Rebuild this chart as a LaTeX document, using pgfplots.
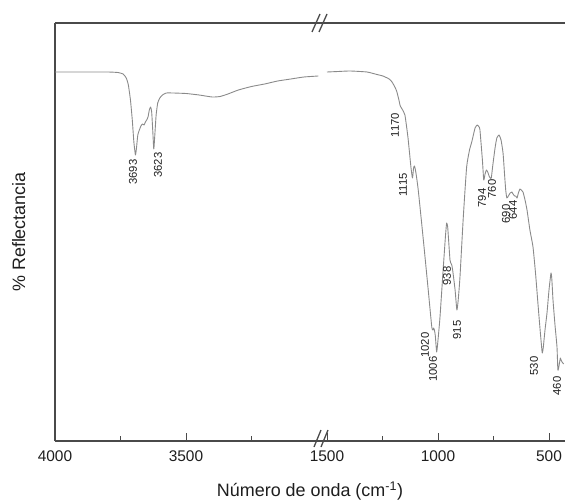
\documentclass[border=0pt]{standalone}
\usepackage{pgfplots}
\pgfplotsset{compat=1.18}
\usepackage{pgfplotstable}
\usepackage{fontspec}
\setmainfont{Liberation Sans}
\definecolor{axisgray}{HTML}{4A4A4A}
\definecolor{curvegray}{HTML}{8A8A8A}
\definecolor{txt}{HTML}{1E1E1E}

% left segment (4000 - ~2990 cm^-1): wavenumber, reflectance (arbitrary units)
\pgfplotstableread{
w y
4000 368
3900 368
3800 368
3760 367.5
3740 366
3728 362
3720 355
3712 340
3705 320
3699 298
3693 285
3689 292
3684 305
3678 310
3672 314
3666 316
3660 315
3655 318
3650 320
3645 323
3640 330
3635 333
3631 328
3627 310
3623 291
3619 305
3614 325
3608 337
3600 342
3590 345
3575 347
3550 347
3500 346.5
3450 345
3400 343
3370 343.5
3340 346
3300 350
3250 353.5
3200 356
3150 359
3100 361
3050 363
2995 364
}\lefttab

% right segment (1500 - ~430 cm^-1)
\pgfplotstableread{
w y
1500 368
1450 368.5
1396 369
1320 368
1275 365.5
1248 364
1220 361
1207 358
1192 352
1185 348
1176 340
1170 334
1162 331
1149 325
1135 302
1122 273
1115 262
1110 272
1106 274
1100 268
1089 250
1066 200
1044 150
1028 113
1022 110
1020 112
1016 110
1012 104
1006 88
1000 100
991 123
976 173
966 205
961 217
956 212
946 180
940 176
938 175
934 170
923 150
915 130
909 140
901 163
886 223
871 273
858 290
848 298
833 312
823 315
815 313
811 310
800 280
794 260
788 266
782 270
776 268
770 264
765 262
760 262
753 275
743 292
735 302
725 305
716 300
707 287
700 265
695 250
690 242
683 244
675 247
667 248
662 246
655 244
650 244
644 242
638 247
631 251
625 250
617 248
608 240
599 230
586 210
572 193
560 165
550 137
540 110
532 90
530 87
526 92
518 110
509 127
500 150
491 167
487 160
482 140
473 115
464 93
460 70
455 74
449 82
446 80
441 78
434 76
}\righttab

\begin{document}
\begin{tikzpicture}
\begin{axis}[
  at={(0,0)}, anchor=south west,
  scale only axis,
  width=510bp, height=418bp,
  xmin=0, xmax=510, ymin=-1, ymax=417,
  axis x line*=box, axis y line*=left,
  axis line style={draw=axisgray, line width=1.3pt},
  xtick={0,131,272,383,494},
  xticklabels={4000,3500,1500,1000,500},
  minor xtick={65.5,196.5,327.5,438.5},
  xtick pos=bottom,
  tick align=inside,
  major tick length=8bp, minor tick length=5bp,
  every tick/.style={draw=axisgray, line width=1pt},
  ytick=\empty,
  x tick label style={font=\fontsize{15.5}{18}\selectfont, text=txt, yshift=-6bp},
  xlabel={Número de onda (cm\textsuperscript{-1})},
  ylabel={\% Reflectancia},
  xlabel style={font=\fontsize{18}{21}\selectfont, text=txt, at={(axis description cs:0.5,-0.12)}, anchor=center},
  ylabel style={font=\fontsize{18}{21}\selectfont, text=txt, at={(axis description cs:-0.071,0.5)}, anchor=center, rotate=0},
  clip=false,
]
\addplot[curvegray, line width=0.9pt, smooth, tension=0.3, line join=round] table[x expr={(4000-\thisrow{w})*0.262}, y=y] {\lefttab};
\addplot[curvegray, line width=0.9pt, smooth, tension=0.3, line join=round] table[x expr={272+(1500-\thisrow{w})*0.222}, y=y] {\righttab};

% axis break marks
\draw[axisgray, line width=1.3pt] (axis cs:257,408) -- (axis cs:265,426);
\draw[axisgray, line width=1.3pt] (axis cs:264,408) -- (axis cs:272,426);
\draw[axisgray, line width=1.3pt] (axis cs:259,-7) -- (axis cs:266,10);
\draw[axisgray, line width=1.3pt] (axis cs:266,-7) -- (axis cs:273,10);

% band labels
\begin{scope}[every node/.style={font=\fontsize{11.3}{13}\selectfont, text=txt, rotate=90, inner sep=0pt}]
\node at (axis cs:78,268) {3693};
\node at (axis cs:103,275) {3623};
\node at (axis cs:340,315) {1170};
\node at (axis cs:348,255) {1115};
\node at (axis cs:370,95) {1020};
\node at (axis cs:378,71) {1006};
\node at (axis cs:392,164) {938};
\node at (axis cs:402,110) {915};
\node at (axis cs:427,242) {794};
\node at (axis cs:437,251) {760};
\node at (axis cs:451,226) {690};
\node at (axis cs:458,230) {644};
\node at (axis cs:479,74) {530};
\node at (axis cs:502,54) {460};
\end{scope}
\end{axis}
\pgfresetboundingbox
\useasboundingbox (-55bp,-59bp) rectangle (510bp,441bp);
\end{tikzpicture}
\end{document}
